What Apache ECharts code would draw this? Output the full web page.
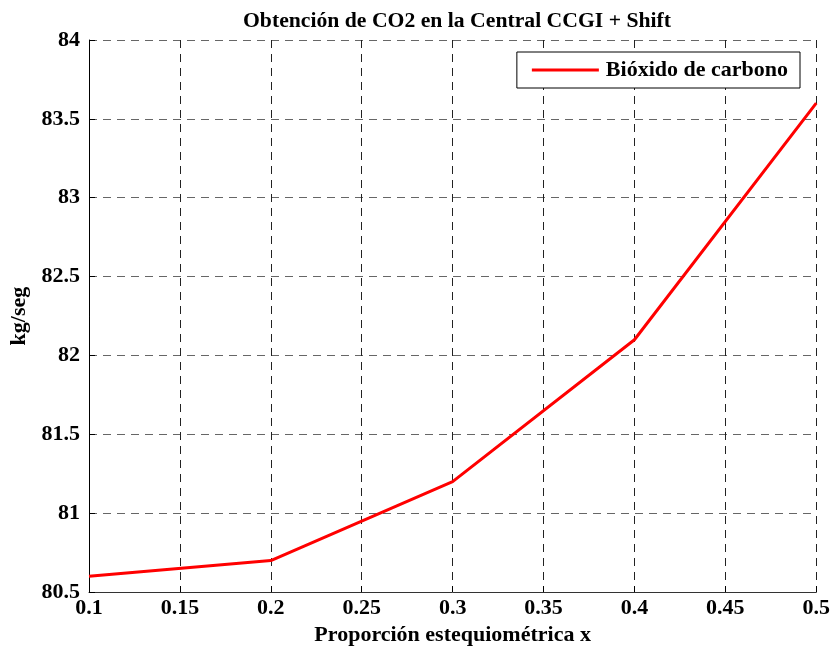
<!DOCTYPE html>
<html><head><meta charset="utf-8">
<script src="https://cdn.jsdelivr.net/npm/echarts@6/dist/echarts.min.js"></script>
<style>html,body{margin:0;padding:0;background:#fff}#c{width:833px;height:651px}</style>
</head><body><div id="c"></div>
<script>
const xValues = [0.1, 0.2, 0.3, 0.4, 0.5];
const co2 = [80.6, 80.7, 81.2, 82.1, 83.6];
const seriesName = 'Bióxido de carbono';
const titleText = 'Obtención de CO2 en la Central CCGI + Shift';
const xName = 'Proporción estequiométrica x';
const yName = 'kg/seg';

const F = '"Liberation Serif","Times New Roman",serif';
const chart = echarts.init(document.getElementById('c'));
chart.setOption({
  animation: false,
  backgroundColor: '#fff',
  title: { text: titleText, left: 452, top: 5, textAlign: 'center',
    textStyle: { fontFamily: F, fontWeight: 'bold', fontSize: 21.7, color: '#000' } },
  grid: { left: 89, right: 16, top: 40, bottom: 58 },
  legend: { data: [seriesName], right: 33, top: 52, orient: 'vertical',
    backgroundColor: '#fff', borderColor: '#000', borderWidth: 1, padding: [7, 12, 7, 15],
    itemWidth: 67, itemHeight: 3, itemGap: 0,
    textStyle: { fontFamily: F, fontWeight: 'bold', fontSize: 22, color: '#000', padding: [0, 0, 0, 2] },
    icon: 'rect' },
  xAxis: { type: 'value', min: 0.1, max: 0.5, interval: 0.05,
    name: xName, nameLocation: 'middle', nameGap: 31,
    nameTextStyle: { fontFamily: F, fontWeight: 'bold', fontSize: 22, color: '#000' },
    axisLine: { show: true, onZero: false, lineStyle: { color: '#333', width: 1 } },
    axisTick: { show: true, inside: true, length: 6, lineStyle: { color: '#000' } },
    axisLabel: { fontFamily: F, fontWeight: 'bold', fontSize: 22, color: '#000', margin: 5,
      formatter: v => String(+v.toFixed(2)) },
    splitLine: { show: true, lineStyle: { type: [8, 6], color: '#222', width: 1 } } },
  yAxis: { type: 'value', min: 80.5, max: 84, interval: 0.5,
    name: yName, nameLocation: 'middle', nameGap: 57, nameRotate: 90,
    nameTextStyle: { fontFamily: F, fontWeight: 'bold', fontSize: 22, color: '#000' },
    axisLine: { show: true, onZero: false, lineStyle: { color: '#000', width: 1 } },
    axisTick: { show: true, inside: true, length: 6, lineStyle: { color: '#000' } },
    axisLabel: { fontFamily: F, fontWeight: 'bold', fontSize: 22, color: '#000', margin: 9,
      formatter: v => String(+v.toFixed(1)) },
    splitLine: { show: true, lineStyle: { type: [8, 6], color: '#666', width: 1 } } },
  series: [{ name: seriesName, type: 'line', data: xValues.map((x, i) => [x, co2[i]]),
    showSymbol: false, symbol: 'none', lineStyle: { color: '#ff0000', width: 3 },
    itemStyle: { color: '#ff0000' } }]
});
</script></body></html>
